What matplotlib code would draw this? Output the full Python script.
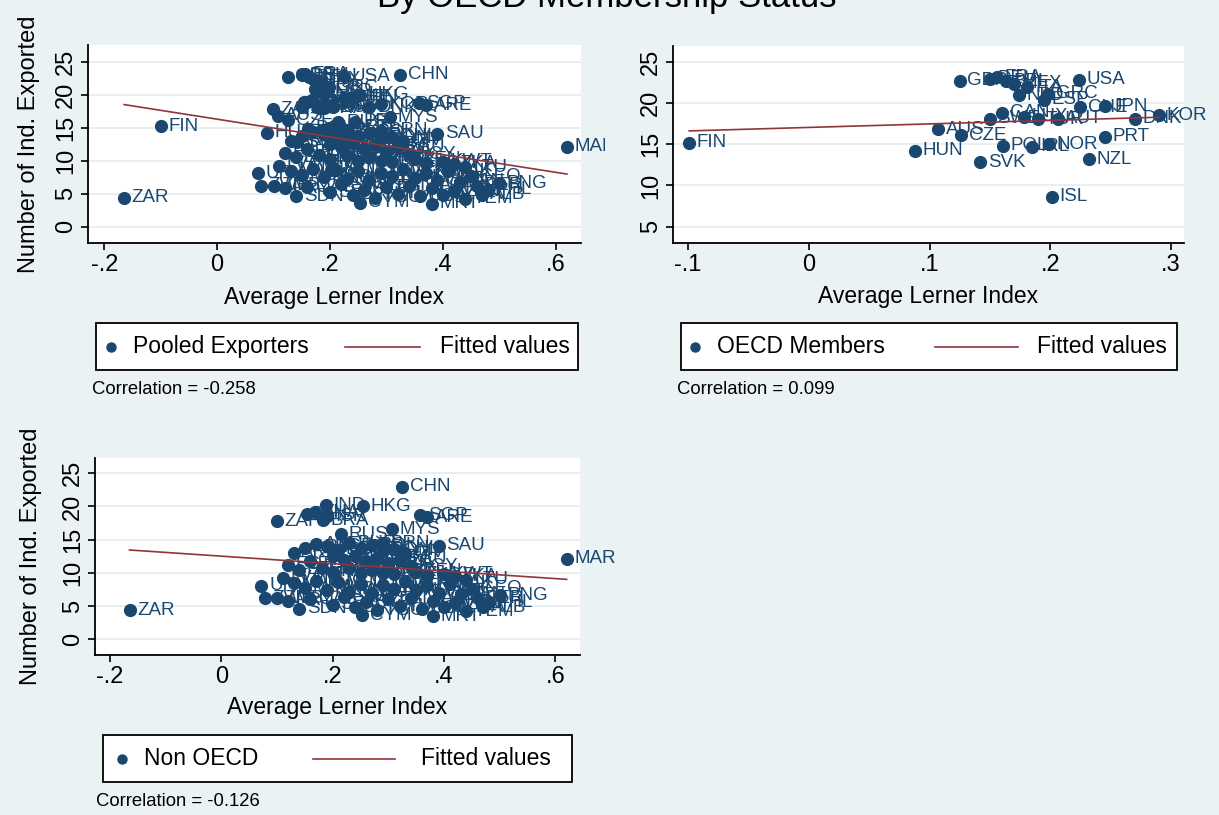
import matplotlib
matplotlib.use("Agg")
import matplotlib.pyplot as plt
from matplotlib.lines import Line2D
from matplotlib.patches import Rectangle
from matplotlib.transforms import Bbox, TransformedBbox
import numpy as np

plt.rcParams['font.family'] = ['Liberation Sans', 'DejaVu Sans']

# ---- data ----
oecd_codes = ['FIN', 'HUN', 'AUS', 'CZE', 'GBR', 'DEU', 'FRA', 'BEL', 'MEX', 'ITA',
              'NLD', 'ESP', 'GRC', 'USA', 'CHE', 'JPN', 'CAN', 'SWE', 'LUX', 'TUR',
              'AUT', 'DNK', 'KOR', 'POL', 'IRL', 'NOR', 'PRT', 'NZL', 'SVK', 'ISL']
oecd_lerner = [-0.099, 0.088, 0.107, 0.126, 0.125, 0.150, 0.156, 0.163, 0.170, 0.181,
               0.174, 0.195, 0.198, 0.224, 0.225, 0.245, 0.160, 0.150, 0.178, 0.190,
               0.206, 0.270, 0.290, 0.161, 0.185, 0.199, 0.245, 0.232, 0.142, 0.201]
oecd_nind = [15.2, 14.2, 16.8, 16.1, 22.7, 22.9, 23.1, 22.6, 22.3, 21.9,
             20.9, 20.4, 21.1, 22.8, 19.5, 19.6, 18.8, 18.1, 18.3, 18.0,
             18.1, 18.1, 18.5, 14.8, 14.7, 15.0, 15.9, 13.2, 12.8, 8.6]

non_codes = ['CHN', 'HKG', 'IND', 'SGP', 'ARE', 'MYS', 'SAU', 'MAR', 'ZAR', 'ZAF',
             'BRA', 'IDN', 'THA', 'ISR', 'RUS', 'ROM', 'LBN', 'URY', 'ZWE', 'ZMB',
             'SDN', 'CYM', 'MRT', 'GEO',
             'ARG', 'ARM', 'AZE', 'BGD', 'BGR', 'BHR', 'BLR', 'BOL', 'BRN', 'CHL',
             'CIV', 'CMR', 'COL', 'CRI', 'CYP', 'DOM', 'DZA', 'ECU', 'EGY', 'EST',
             'ETH', 'GHA', 'GTM', 'HND', 'HRV', 'IRN', 'JAM', 'JOR', 'KAZ', 'KEN',
             'KGZ', 'KWT', 'LKA', 'LTU',
             'LVA', 'MAC', 'MDA', 'MDG', 'MKD', 'MLT', 'MNG', 'MOZ', 'MUS', 'MWI',
             'NAM', 'NER', 'NGA', 'NIC', 'OMN', 'PAK', 'PAN', 'PER', 'PHL', 'PNG',
             'PRY', 'QAT', 'SEN', 'SLV', 'SVN', 'SYR', 'TGO', 'TTO', 'TUN', 'TZA',
             'UGA', 'UKR', 'UZB', 'VEN', 'YEM', 'ALB']
non_lerner = [0.325, 0.254, 0.187, 0.357, 0.370, 0.307, 0.390, 0.620, -0.165, 0.099,
              0.182, 0.154, 0.168, 0.190, 0.215, 0.290, 0.300, 0.072, 0.078, 0.100,
              0.140, 0.253, 0.380, 0.450,
              0.13, 0.15, 0.17, 0.19, 0.21, 0.23, 0.25, 0.27, 0.29, 0.31,
              0.33, 0.20, 0.22, 0.24, 0.26, 0.28, 0.30, 0.32, 0.34, 0.12,
              0.14, 0.16, 0.18, 0.20, 0.23, 0.25, 0.27, 0.29, 0.31, 0.35,
              0.37, 0.40, 0.42, 0.44,
              0.11, 0.13, 0.15, 0.17, 0.19, 0.21, 0.23, 0.25, 0.27, 0.29,
              0.31, 0.33, 0.35, 0.37, 0.39, 0.41, 0.43, 0.46, 0.48, 0.50,
              0.12, 0.16, 0.20, 0.22, 0.24, 0.26, 0.28, 0.30, 0.32, 0.34,
              0.36, 0.38, 0.40, 0.42, 0.44, 0.47]
non_nind = [23.0, 20.0, 20.2, 18.7, 18.4, 16.6, 14.1, 12.1, 4.4, 17.8,
            17.9, 18.8, 19.1, 18.5, 15.8, 13.3, 11.2, 8.1, 6.2, 6.2,
            4.6, 3.6, 3.5, 7.6,
            13.0, 13.8, 14.3, 14.0, 13.5, 14.5, 13.8, 14.2, 14.5, 13.6,
            13.0, 12.5, 12.0, 12.6, 11.8, 12.3, 11.5, 12.0, 11.0, 11.2,
            10.5, 11.8, 10.8, 10.2, 10.8, 10.0, 10.5, 10.0, 9.8, 10.2,
            9.6, 9.8, 9.5, 9.0,
            9.2, 8.5, 7.8, 8.8, 7.5, 8.6, 7.2, 8.4, 7.0, 8.2,
            7.6, 8.8, 7.4, 8.2, 7.0, 8.4, 6.8, 6.2, 5.6, 6.6,
            5.8, 6.0, 5.2, 6.4, 4.8, 5.6, 4.4, 6.0, 5.0, 6.2,
            4.6, 5.8, 4.8, 5.4, 4.2, 4.8]

# fitted lines (intercept, slope) and correlation notes
fit_pooled = (16.27, -13.4)
fit_oecd = (17.03, 4.26)
fit_non = (12.52, -5.63)
corr_pooled = 'Correlation = -0.258'
corr_oecd = 'Correlation = 0.099'
corr_non = 'Correlation = -0.126'

BG = '#EAF2F3'
NAVY = '#1A476F'
MAROON = '#90353B'
W, H = 1219, 815

fig = plt.figure(figsize=(W / 100, H / 100), dpi=100)
fig.patch.set_facecolor(BG)


def px_rect(left, top, right, bottom):
    return [left / W, 1 - bottom / H, (right - left) / W, (bottom - top) / H]


def panel(rect, codes, xs, ys, fit, xlim, ylim, xticks, xticklabels, yticks, clip_right):
    ax = fig.add_axes(px_rect(*rect))
    ax.set_facecolor('white')
    ax.set_xlim(*xlim)
    ax.set_ylim(*ylim)
    for s in ['top', 'right']:
        ax.spines[s].set_visible(False)
    for s in ['left', 'bottom']:
        ax.spines[s].set_linewidth(1.3)
    ax.set_yticks(yticks)
    ax.set_xticks(xticks)
    ax.set_xticklabels(xticklabels)
    ax.yaxis.grid(True, color='#E3ECEE', linewidth=1.2)
    ax.set_axisbelow(True)
    ax.tick_params(labelsize=17, length=5, width=1.2, pad=3)
    for lab in ax.get_yticklabels():
        lab.set_rotation(90)
        lab.set_va('center')

    xs = np.array(xs)
    clipbox = TransformedBbox(Bbox([[0, 0], [clip_right / W, 1]]), fig.transFigure)
    ax.plot(xs, ys, 'o', color=NAVY, markersize=8.5, zorder=3, clip_on=False)
    for c, x, y in zip(codes, xs, ys):
        t = ax.annotate(c, (x, y), xytext=(5.5, 0), textcoords='offset points',
                        va='center', ha='left', fontsize=13.5, color=NAVY,
                        zorder=4, annotation_clip=False)
        t.set_clip_box(clipbox)
        t.set_clip_on(True)
    xf = np.array([xs.min(), xs.max()])
    ax.plot(xf, fit[0] + fit[1] * xf, color=MAROON, linewidth=1.2, zorder=5)
    ax.set_xlabel('Average Lerner Index', fontsize=16.5)
    return ax


def legend(box, marker_x, label1, line_x, label2_x, label2, corr_xy, corr):
    l, t, r, b = box
    fig.patches.append(Rectangle((l / W, 1 - b / H), (r - l) / W, (b - t) / H,
                                 transform=fig.transFigure, facecolor='white',
                                 edgecolor='black', linewidth=1.3))
    yc = 1 - (t + b) / 2 / H
    fig.lines.append(Line2D([marker_x / W], [yc], marker='o', color=NAVY,
                            markersize=6.5, transform=fig.transFigure))
    fig.text((marker_x + 22) / W, yc, label1, fontsize=16.5, va='center')
    fig.lines.append(Line2D([line_x[0] / W, line_x[1] / W], [yc, yc], color=MAROON,
                            linewidth=1.2, transform=fig.transFigure))
    fig.text(label2_x / W, yc, label2, fontsize=16.5, va='center')
    fig.text(corr_xy[0] / W, 1 - corr_xy[1] / H, corr, fontsize=13.3, va='center')


pooled_codes = oecd_codes + non_codes
pooled_x = oecd_lerner + non_lerner
pooled_y = oecd_nind + non_nind

xt = [-0.2, 0, 0.2, 0.4, 0.6]
xtl = ['-.2', '0', '.2', '.4', '.6']

ax1 = panel((88, 45, 581, 243), pooled_codes, pooled_x, pooled_y, fit_pooled,
            (-0.229, 0.645), (-2.47, 27.5), xt, xtl, [0, 5, 10, 15, 20, 25], 605)
ax1.set_ylabel('Number of Ind. Exported', fontsize=17)
ax1.yaxis.set_label_coords(-0.097, 0.5)
ax1.xaxis.set_label_coords(0.5, -0.215)

ax2 = panel((673, 46, 1184, 243), oecd_codes, oecd_lerner, oecd_nind, fit_oecd,
            (-0.1124, 0.3107), (3.02, 26.9), [-0.1, 0, 0.1, 0.2, 0.3],
            ['-.1', '0', '.1', '.2', '.3'], [5, 10, 15, 20, 25], W)
ax2.xaxis.set_label_coords(0.5, -0.215)

ax3 = panel((95, 458, 580, 655), non_codes, non_lerner, non_nind, fit_non,
            (-0.227, 0.644), (-2.36, 27.3), xt, xtl, [0, 5, 10, 15, 20, 25], 620)
ax3.set_ylabel('Number of Ind. Exported', fontsize=17)
ax3.yaxis.set_label_coords(-0.109, 0.5)
ax3.xaxis.set_label_coords(0.5, -0.21)

legend((96, 323, 578, 370), 111, 'Pooled Exporters', (345, 420), 440, 'Fitted values',
       (92, 390), corr_pooled)
legend((681, 323, 1177, 370), 695, 'OECD Members', (935, 1018), 1037, 'Fitted values',
       (677, 390), corr_oecd)
legend((103, 735, 572, 782), 122, 'Non OECD', (313, 395), 421, 'Fitted values',
       (96, 802), corr_non)

# title sits partly above the top edge, as in the source image
fig.text(607 / W, 1 - 7 / H, 'By OECD Membership Status', fontsize=25,
         ha='center', va='baseline')

fig.savefig('out.png', dpi=100, facecolor=BG)
